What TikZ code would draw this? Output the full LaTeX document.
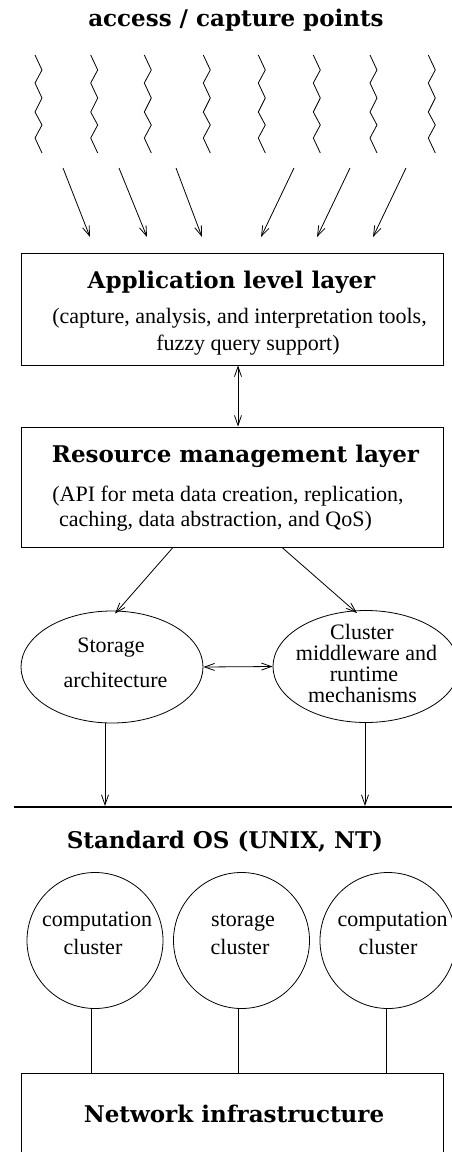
\documentclass[tikz,border=0pt]{standalone}
\usepackage{fontspec}
\setmainfont{Liberation Serif}
\newfontfamily\headfont{DejaVu Serif}
\usetikzlibrary{arrows.meta,shapes.geometric}
\tikzset{
  ln/.style={line width=0.8pt},
  tip/.style={ln,-{Straight Barb[length=10pt,width=7pt]}},
  dtip/.style={ln,{Straight Barb[length=10pt,width=7pt]}-{Straight Barb[length=10pt,width=7pt]}},
  layerbox/.style={ln,draw,rectangle,minimum width=422pt,inner sep=0pt},
  head/.style={anchor=base,inner sep=0pt,font=\headfont\bfseries\fontsize{23}{28}\selectfont},
  body/.style={anchor=base,inner sep=0pt,font=\fontsize{22}{26}\selectfont},
  oval/.style={ln,draw,ellipse,inner sep=0pt,minimum width=182pt,minimum height=112pt},
  clu/.style={ln,draw,circle,inner sep=0pt,minimum size=136pt},
  zig/.style={ln,line join=miter},
}
\begin{document}
\begin{tikzpicture}[x=1pt,y=-1pt]
\clip (0,0) rectangle (452,1152);
\fill[white] (0,0) rectangle (452,1152);

% title
\node[head] (title) at (236,26) {access / capture points};

% zigzags (access points)
\foreach \x [count=\i] in {35,90.7,144.3,203.3,258.3,313.3,370,428.3}{
  \draw[zig] (\x,55) -- (\x+7,70) -- (\x,83) -- (\x+7,98) -- (\x,112) -- (\x+7,125) -- (\x,138) -- (\x+7,153);
}

% arrows from capture points
\coordinate (a1s) at (63,168);  \coordinate (a1e) at (90,237);
\coordinate (a2s) at (119,168); \coordinate (a2e) at (147,237);
\coordinate (a3s) at (176,168); \coordinate (a3e) at (202,237);
\coordinate (a4s) at (294,168); \coordinate (a4e) at (261,237);
\coordinate (a5s) at (350,168); \coordinate (a5e) at (317,237);
\coordinate (a6s) at (406,168); \coordinate (a6e) at (373,237);
\foreach \i in {1,...,6}{ \draw[tip] (a\i s) -- (a\i e); }

% application layer
\node[layerbox,minimum height=112pt] (app) at (232,309) {};
\node[head] (apptitle) at (231.5,288) {Application level layer};
\node[body] (app1) at (239.5,323) {(capture, analysis, and interpretation tools,};
\node[body] (app2) at (248,350.5) {fuzzy query support)};

% resource layer
\node[layerbox,minimum height=120pt] (res) at (232,487) {};
\node[head] (restitle) at (235.5,462) {Resource management layer};
\node[body] (res1) at (228,501.7) {(API for meta data creation, replication,};
\node[body] (res2) at (215.5,526.7) {caching, data abstraction, and QoS)};

\draw[dtip] ([xshift=6pt]app.south) -- ([xshift=6pt]res.north);

% ellipses
\node[oval] (stor) at (112,667) {};
\node[body] (stor1) at (111,652.7) {Storage};
\node[body] (stor2) at (115.5,687) {architecture};

\node[oval,minimum width=186pt] (clus) at (366,666.5) {};
\node[body] (clus1) at (362,639) {Cluster};
\node[body] (clus2) at (366.5,660) {middleware and};
\node[body] (clus3) at (364,681) {runtime};
\node[body] (clus4) at (362.5,702.7) {mechanisms};

\draw[tip] ([xshift=-59pt]res.south) -- ([xshift=3pt,yshift=-3pt]stor.north);
\draw[tip] ([xshift=50pt]res.south) -- ([xshift=-9pt,yshift=-3pt]clus.north);
\draw[dtip] (stor.east) -- (clus.west);

% OS line
\coordinate (osA) at (14,807);
\coordinate (osB) at (452,807);
\draw[line width=2.4pt] (osA) -- (osB);
\coordinate (osL) at (105,806);
\coordinate (osR) at (365,806);
\draw[tip] ([xshift=-7pt]stor.south) -- (osL);
\draw[tip] (clus.south -| osR) -- (osR);

\node[head] (os) at (225,848) {Standard OS (UNIX, NT)};

% clusters
\node[clu] (c1) at (95,940.5) {};
\node[clu] (c2) at (241.5,940.5) {};
\node[clu] (c3) at (388,940.5) {};
\node[body] (c1a) at (97,926) {computation};
\node[body] (c1b) at (93,954) {cluster};
\node[body] (c2a) at (243,926.5) {storage};
\node[body] (c2b) at (240,954) {cluster};
\node[body] (c3a) at (392.5,926) {computation};
\node[body] (c3b) at (388,954) {cluster};

% network
\node[layerbox,minimum height=120pt,anchor=north] (net) at (232,1073) {};
\node[head] (nettitle) at (234,1122.7) {Network infrastructure};

\draw[ln] ([xshift=-4pt]c1.south) -- ([xshift=-4pt]c1.south |- net.north);
\draw[ln] ([xshift=-3pt]c2.south) -- ([xshift=-3pt]c2.south |- net.north);
\draw[ln] ([xshift=-2pt]c3.south) -- ([xshift=-2pt]c3.south |- net.north);
\end{tikzpicture}
\end{document}
